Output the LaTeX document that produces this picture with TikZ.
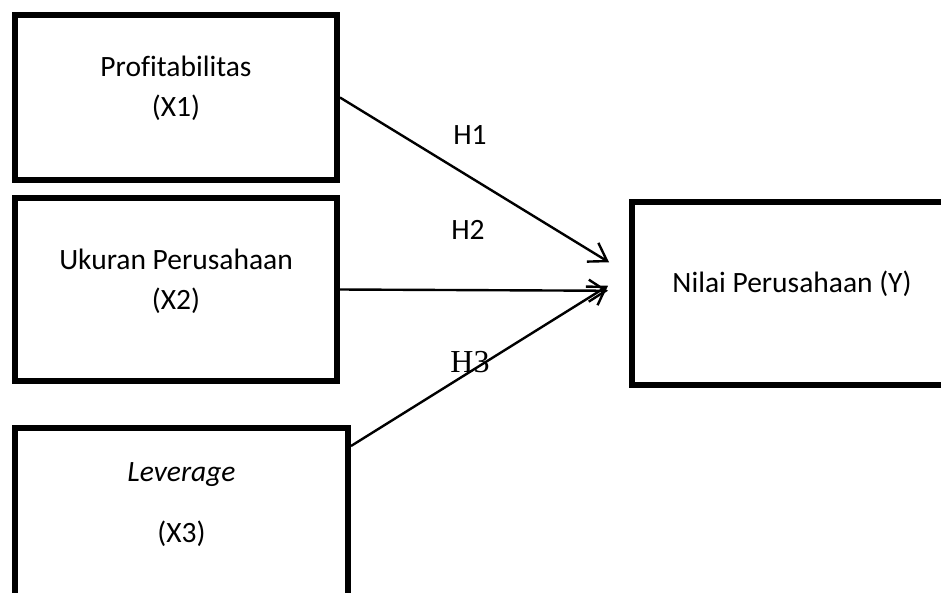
\documentclass[tikz,border=0pt]{standalone}
\usepackage{fontspec}
\setmainfont{Carlito}[Ligatures=CommonOff]
\newfontfamily\serifH{Liberation Serif}
\usetikzlibrary{arrows.meta,positioning,calc}

\begin{document}
\begin{tikzpicture}[x=1pt, y=-1pt,
    varbox/.style={draw, line width=6pt, anchor=north west, inner sep=0pt},
    vartext/.style={align=center, font=\fontsize{29.5}{40}\selectfont},
    hyp/.style={font=\fontsize{29.5}{35}\selectfont},
    link/.style={line width=2.4pt, -{Straight Barb[length=17pt, width=22pt]}}]
    \useasboundingbox (0,0) rectangle (941,592);
    \clip (0,0) rectangle (941,592);

    % Independent variables
    \node[varbox, minimum width=322, minimum height=165,
        label={[vartext, yshift=9.5pt]center:{Profitabilitas\\(X1)}}] (x1) at (12,12) {};
    \node[varbox, minimum width=322, minimum height=183,
        label={[vartext, yshift=8.5pt]center:{Ukuran Perusahaan\\(X2)}}] (x2) at (12,195) {};
    \node[varbox, minimum width=333, minimum height=170,
        label={[vartext, yshift=8pt]center:{\textit{Leverage}\\[21pt](X3)}}] (x3) at (12,425) {};

    % Dependent variable
    \node[varbox, minimum width=320, minimum height=182.5,
        label={[vartext, yshift=9.5pt]center:{Nilai Perusahaan (Y)}}] (ynode) at (629,199) {};

    % Arrow ends
    \coordinate (t1) at ([shift={(-20,-31)}]ynode.west);
    \coordinate (t2) at ([shift={(-21,-2.5)}]ynode.west);
    \coordinate (t3) at ([shift={(-21,-7.5)}]ynode.west);
    \coordinate (s3) at ([yshift=-21pt]x3.north east);

    % Hypotheses
    \draw[link] (x1.east) -- (t1);
    \draw[link] (x2.east) -- (t2);
    \draw[link] (s3) -- (t3);

    \node[hyp] (h1) at (470,135) {H1};
    \node[hyp] (h2) at (468,230) {H2};
    \node[hyp, font=\serifH\fontsize{32}{36}\selectfont] (h3) at (470,362) {H3};
\end{tikzpicture}
\end{document}
